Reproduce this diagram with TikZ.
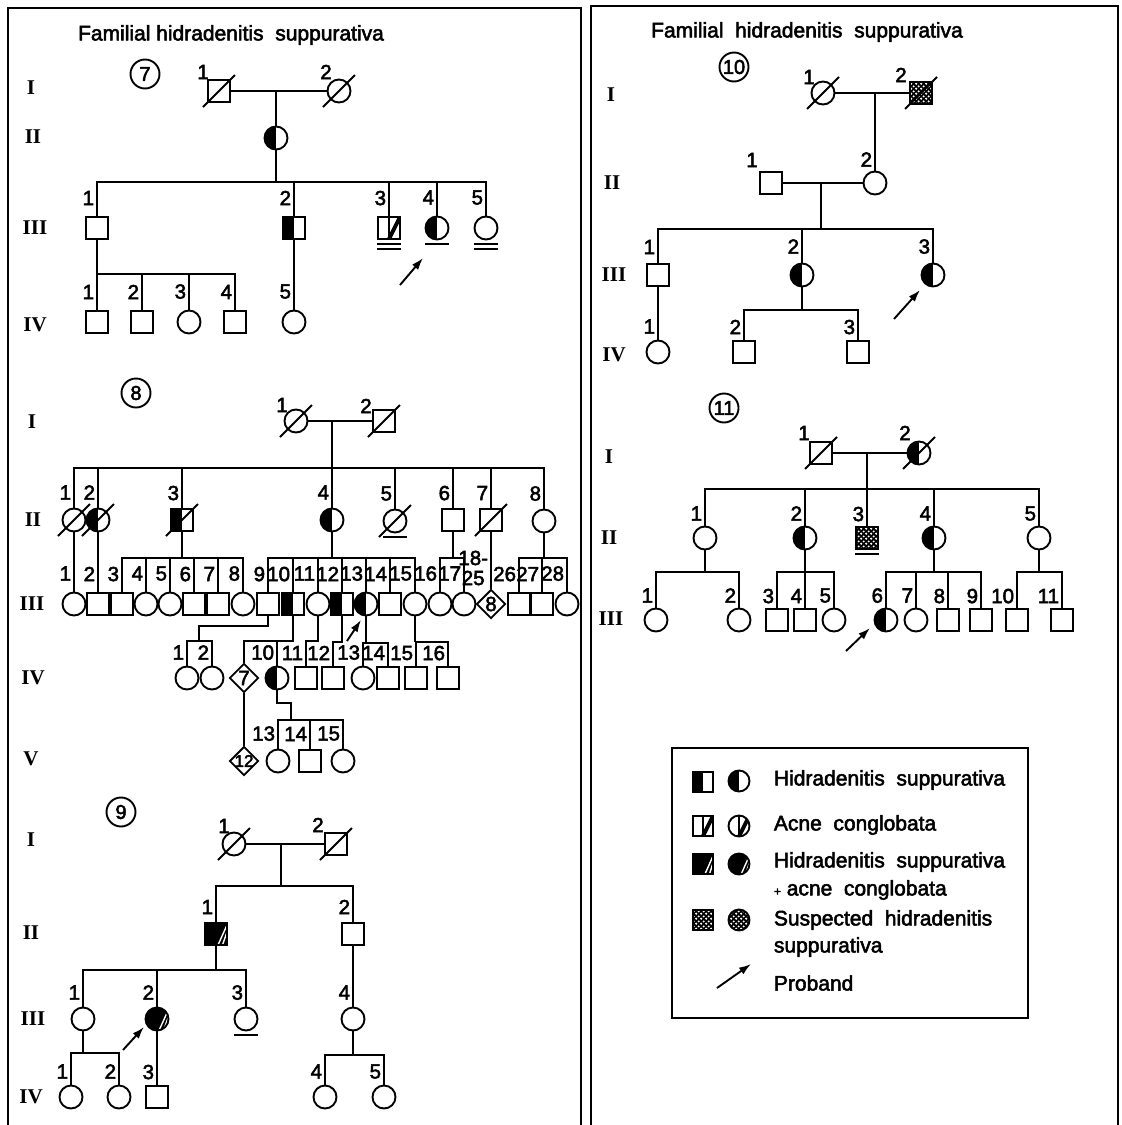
\documentclass[tikz,border=0pt]{standalone}
\usepackage{fontspec}
\setmainfont{Liberation Sans}[FakeBold=2.5]
\newfontfamily\genfont{Liberation Serif}
\usetikzlibrary{shapes.geometric,arrows.meta,patterns}

\pgfdeclarepatternformonly{stipple}{\pgfqpoint{-1pt}{-1pt}}{\pgfqpoint{6pt}{6pt}}{\pgfqpoint{5pt}{5pt}}{%
  \pgfpathcircle{\pgfqpoint{1.2pt}{1.3pt}}{1.2pt}%
  \pgfpathcircle{\pgfqpoint{3.7pt}{3.6pt}}{1.1pt}%
  \pgfusepath{fill}}

\newcommand\deceased[1]{\draw ([shift={(-16,-16)}]#1.center) -- ([shift={(16,16)}]#1.center);}
\newcommand\underl[1]{\draw ([shift={(-12,-16)}]#1.center) -- ([shift={(12,-16)}]#1.center);}
\newcommand\dunderl[1]{\underl{#1}\draw ([shift={(-12,-21)}]#1.center) -- ([shift={(12,-21)}]#1.center);}
\newcommand\lbl[3][18]{\node[num,anchor=east] (l#2) at ([shift={(-2,#1)}]#2.north) {#3};}

\begin{document}
\begin{tikzpicture}[x=1pt,y=1pt,line width=1.9pt,
  every node/.style={inner sep=0pt},
  sq/.style={draw,rectangle,minimum size=22pt},
  ci/.style={draw,circle,minimum size=23pt},
  dm/.style={draw,diamond,minimum size=29pt},
  hs/.style={path picture={\fill (path picture bounding box.south west) rectangle (path picture bounding box.north);}},
  ac/.style={path picture={\draw[line width=1.2pt] (path picture bounding box.south) -- (path picture bounding box.north);
    \draw[line width=4pt] (path picture bounding box.south) -- (path picture bounding box.north east);}},
  hsac/.style={path picture={\fill (path picture bounding box.south west) rectangle (path picture bounding box.north east);
    \draw[white,line width=1.4pt] ([xshift=2pt]path picture bounding box.south) -- ([yshift=-2pt]path picture bounding box.north east);
    \draw[white,line width=1.4pt] ([xshift=6.5pt]path picture bounding box.south) -- ([yshift=-9pt]path picture bounding box.north east);}},
  sus/.style={preaction={fill=black},pattern=stipple,pattern color=white},
  num/.style={font=\fontsize{20.5}{20}\selectfont},
  gen/.style={font=\genfont\bfseries\fontsize{21}{21}\selectfont},
  txt/.style={font=\fontsize{21}{21}\selectfont,anchor=west},
  pedno/.style={draw,circle,minimum size=29pt,font=\fontsize{20}{20}\selectfont},
  proband/.style={-{Latex[length=12pt,width=8pt]}}]
\useasboundingbox (0,0) rectangle (1122,-1125);
\draw (8,-1125) -- (8,-8) -- (581,-8) -- (581,-1125);
\draw (591,-1125) -- (591,-6) -- (1118,-6) -- (1118,-1125);
\node[txt,anchor=center] (title1) at (231,-35) {Familial hidradenitis~~suppurativa};
\node[txt,anchor=center] (title2) at (807,-32) {Familial~~hidradenitis~~suppurativa};

\node[pedno] (c7) at (145,-74) {7};
\node[gen] (g7I) at (31,-88) {I};
\node[gen] (g7II) at (33,-137) {II};
\node[gen] (g7III) at (35,-228) {III};
\node[gen] (g7IV) at (35,-325) {IV};
\node[sq] (p7I1) at (219,-91) {};
\node[ci] (p7I2) at (339,-91) {};
\deceased{p7I1}
\deceased{p7I2}
\node[num] (l7I1) at (203,-72) {1};
\node[num] (l7I2) at (326,-72) {2};
\coordinate (m7) at (276,-91);
\node[ci,hs] (p7II1) at (276,-138) {};
\coordinate (b7) at (276,-182);
\node[sq] (p7III1) at (97,-228) {};
\node[sq,hs] (p7III2) at (294,-228) {};
\node[sq,ac] (p7III3) at (389,-228) {};
\node[ci,hs] (p7III4) at (437,-228) {};
\node[ci] (p7III5) at (486,-228) {};
\draw (p7I1) -- (p7I2);
\draw (m7) -- (p7II1);
\draw (p7II1) -- (b7);
\foreach \k in {1,...,5} {\draw (p7III\k) |- (b7); \lbl{p7III\k}{\k}}
\dunderl{p7III3}
\underl{p7III4}
\dunderl{p7III5}
\coordinate (a7s) at (400,-285);
\coordinate (a7e) at (423,-258);
\draw[proband] (a7s) -- (a7e);
\coordinate (b7b) at (97,-274);
\node[sq] (p7IV1) at (97,-322) {};
\node[sq] (p7IV2) at (142,-322) {};
\node[ci] (p7IV3) at (189,-322) {};
\node[sq] (p7IV4) at (235,-322) {};
\node[ci] (p7IV5) at (294,-322) {};
\draw (p7III1) -- (b7b);
\foreach \k in {1,...,4} {\draw (p7IV\k) |- (b7b);}
\draw (p7III2) -- (p7IV5);
\foreach \k in {1,...,5} {\lbl{p7IV\k}{\k}}

\node[pedno] (c8) at (136,-393) {8};
\node[gen] (g8I) at (32,-422) {I};
\node[gen] (g8II) at (33,-520) {II};
\node[gen] (g8III) at (32,-604) {III};
\node[gen] (g8IV) at (33,-678) {IV};
\node[gen] (g8V) at (31,-759) {V};
\node[ci] (p8I1) at (296,-421) {};
\node[sq] (p8I2) at (384,-421) {};
\deceased{p8I1}
\deceased{p8I2}
\node[num] (l8I1) at (282,-405) {1};
\node[num] (l8I2) at (366,-406) {2};
\coordinate (m8) at (332,-421);
\coordinate (b8) at (332,-468);
\node[ci] (p8II1) at (74,-520) {};
\node[ci,hs] (p8II2) at (98,-520) {};
\node[sq,hs] (p8II3) at (182,-520) {};
\node[ci,hs] (p8II4) at (332,-520) {};
\node[ci] (p8II5) at (395,-521) {};
\node[sq] (p8II6) at (453,-520) {};
\node[sq] (p8II7) at (491,-520) {};
\node[ci] (p8II8) at (544,-521) {};
\deceased{p8II1}
\deceased{p8II2}
\deceased{p8II3}
\deceased{p8II5}
\deceased{p8II7}
\underl{p8II5}
\draw (p8I1) -- (p8I2);
\draw (m8) -- (b8);
\foreach \k in {1,...,8} {\draw (p8II\k) |- (b8); \lbl[15]{p8II\k}{\k}}
\node[ci] (p8III1) at (74,-604) {};
\node[sq] (p8III2) at (98,-604) {};
\node[sq] (p8III3) at (122,-604) {};
\node[ci] (p8III4) at (146,-604) {};
\node[ci] (p8III5) at (170,-604) {};
\node[sq] (p8III6) at (194,-604) {};
\node[sq] (p8III7) at (218,-604) {};
\node[ci] (p8III8) at (243,-604) {};
\node[sq] (p8III9) at (268,-604) {};
\node[sq,hs] (p8III10) at (293,-604) {};
\node[ci] (p8III11) at (318,-604) {};
\node[sq,hs] (p8III12) at (342,-604) {};
\node[ci,hs] (p8III13) at (366,-604) {};
\node[sq] (p8III14) at (390,-604) {};
\node[ci] (p8III15) at (415,-604) {};
\node[ci] (p8III16) at (440,-604) {};
\node[ci] (p8III17) at (464,-604) {};
\node[dm] (p8III18) at (491,-604) {};
\node[num] (p8III18t) at (p8III18) {8};
\node[sq] (p8III26) at (519,-604) {};
\node[sq] (p8III27) at (542,-604) {};
\node[ci] (p8III28) at (567,-604) {};
\coordinate (b8c) at (182,-558);
\coordinate (b8d) at (332,-558);
\coordinate (b8f) at (453,-558);
\coordinate (b8h) at (544,-558);
\draw (p8II1) -- (p8III1);
\draw (p8II2) -- (p8III2);
\draw (p8II3) -- (b8c);
\foreach \k in {3,...,8} {\draw (p8III\k) |- (b8c);}
\draw (p8II4) -- (b8d);
\foreach \k in {9,...,15} {\draw (p8III\k) |- (b8d);}
\draw (p8II6) -- (b8f);
\foreach \k in {16,17} {\draw (p8III\k) |- (b8f);}
\draw (p8II7) -- (p8III18);
\draw (p8II8) -- (b8h);
\foreach \k in {26,27,28} {\draw (p8III\k) |- (b8h);}
\foreach \k in {1,...,17,26,27,28} {\lbl{p8III\k}{\k}}
\node[num,align=center,anchor=east] (l8III18) at (489,-568) {18-\\25};
\coordinate (a8s) at (347,-641);
\coordinate (a8e) at (361,-620);
\draw[proband] (a8s) -- (a8e);
\node[ci] (p8IV1) at (187,-678) {};
\node[ci] (p8IV2) at (212,-678) {};
\node[dm] (p8IV7) at (244,-678) {};
\node[num] (p8IV7t) at (p8IV7) {7};
\node[ci,hs] (p8IV10) at (277,-678) {};
\node[sq] (p8IV11) at (306,-678) {};
\node[sq] (p8IV12) at (333,-678) {};
\node[ci] (p8IV13) at (363,-678) {};
\node[sq] (p8IV14) at (388,-678) {};
\node[sq] (p8IV15) at (416,-678) {};
\node[sq] (p8IV16) at (448,-678) {};
\coordinate (k8a) at (268,-626);
\coordinate (k8b) at (199,-626);
\coordinate (b8i) at (199,-641);
\draw (p8III9) -- (k8a) -- (k8b) -- (b8i);
\draw (p8IV1) |- (b8i);
\draw (p8IV2) |- (b8i);
\coordinate (b8j) at (293,-641);
\draw (p8III10) -- (b8j) -| (p8IV7);
\draw (p8IV10) -- (p8IV10 |- b8j);
\coordinate (b8k) at (318,-641);
\draw (p8III11) -- (b8k) -| (p8IV11);
\coordinate (b8l) at (342,-642);
\draw (p8III12) -- (b8l) -| (p8IV12);
\coordinate (b8m) at (366,-643);
\draw (p8III13) -- (b8m);
\draw (p8IV13) |- (b8m);
\draw (p8IV14) |- (b8m);
\coordinate (b8o) at (415,-642);
\draw (p8III15) -- (b8o);
\draw (p8IV15) |- (b8o);
\draw (p8IV16) |- (b8o);
\foreach \k in {1,2,10,11,12,13,14,15,16} {\lbl[13]{p8IV\k}{\k}}
\node[dm] (p8V12) at (244,-761) {};
\node[num,font=\fontsize{17}{17}\selectfont] (p8V12t) at (p8V12) {12};
\node[ci] (p8V13) at (278,-761) {};
\node[sq] (p8V14) at (310,-761) {};
\node[ci] (p8V15) at (343,-761) {};
\draw (p8IV7) -- (p8V12);
\coordinate (k8v) at (291,-703);
\coordinate (b8v) at (291,-720);
\draw (p8IV10) |- (k8v) -- (b8v);
\foreach \k in {13,14,15} {\draw (p8V\k) |- (b8v); \lbl[15]{p8V\k}{\k}}

\node[pedno] (c9) at (121,-812) {9};
\node[gen] (g9I) at (31,-840) {I};
\node[gen] (g9II) at (31,-933) {II};
\node[gen] (g9III) at (33,-1019) {III};
\node[gen] (g9IV) at (31,-1097) {IV};
\node[ci] (p9I1) at (234,-844) {};
\node[sq] (p9I2) at (336,-844) {};
\deceased{p9I1}
\deceased{p9I2}
\node[num] (l9I1) at (224,-826) {1};
\node[num] (l9I2) at (318,-825) {2};
\coordinate (m9) at (281,-844);
\coordinate (b9) at (281,-886);
\node[sq,hsac] (p9II1) at (216,-934) {};
\node[sq] (p9II2) at (353,-934) {};
\draw (p9I1) -- (p9I2);
\draw (m9) -- (b9);
\draw (p9II1) |- (b9);
\draw (p9II2) |- (b9);
\lbl[15]{p9II1}{1}
\lbl[15]{p9II2}{2}
\node[ci] (p9III1) at (83,-1019) {};
\node[ci,hsac] (p9III2) at (157,-1019) {};
\node[ci] (p9III3) at (246,-1019) {};
\node[ci] (p9III4) at (353,-1019) {};
\underl{p9III3}
\coordinate (b9b) at (216,-970);
\draw (p9II1) -- (b9b);
\foreach \k in {1,2,3} {\draw (p9III\k) |- (b9b);}
\draw (p9II2) -- (p9III4);
\foreach \k in {1,...,4} {\lbl[14]{p9III\k}{\k}}
\coordinate (a9s) at (123,-1050);
\coordinate (a9e) at (144,-1027);
\draw[proband] (a9s) -- (a9e);
\node[ci] (p9IV1) at (71,-1097) {};
\node[ci] (p9IV2) at (119,-1097) {};
\node[sq] (p9IV3) at (157,-1097) {};
\node[ci] (p9IV4) at (325,-1097) {};
\node[ci] (p9IV5) at (384,-1097) {};
\coordinate (b9c) at (83,-1053);
\draw (p9III1) -- (b9c);
\draw (p9IV1) |- (b9c);
\draw (p9IV2) |- (b9c);
\draw (p9III2) -- (p9IV3);
\coordinate (b9d) at (353,-1055);
\draw (p9III4) -- (b9d);
\draw (p9IV4) |- (b9d);
\draw (p9IV5) |- (b9d);
\foreach \k in {1,...,5} {\lbl[13]{p9IV\k}{\k}}

\node[pedno] (c10) at (734,-67) {10};
\node[gen] (g10I) at (611,-95) {I};
\node[gen] (g10II) at (612,-183) {II};
\node[gen] (g10III) at (614,-275) {III};
\node[gen] (g10IV) at (614,-355) {IV};
\node[ci] (p10I1) at (823,-93) {};
\node[sq,sus] (p10I2) at (921,-93) {};
\deceased{p10I1}
\deceased{p10I2}
\node[num] (l10I1) at (809,-77) {1};
\node[num] (l10I2) at (901,-75) {2};
\coordinate (m10) at (875,-93);
\node[sq] (p10II1) at (771,-183) {};
\node[ci] (p10II2) at (875,-183) {};
\draw (p10I1) -- (p10I2);
\draw (m10) -- (p10II2);
\node[num] (l10II1) at (752,-160) {1};
\lbl[11]{p10II2}{2}
\coordinate (m10b) at (821,-183);
\coordinate (b10) at (821,-229);
\draw (p10II1) -- (p10II2);
\draw (m10b) -- (b10);
\node[sq] (p10III1) at (658,-275) {};
\node[ci,hs] (p10III2) at (802,-275) {};
\node[ci,hs] (p10III3) at (933,-275) {};
\foreach \k in {1,2,3} {\draw (p10III\k) |- (b10); \lbl[16]{p10III\k}{\k}}
\coordinate (a10s) at (894,-319);
\coordinate (a10e) at (920,-290);
\draw[proband] (a10s) -- (a10e);
\node[ci] (p10IV1) at (658,-352) {};
\node[sq] (p10IV2) at (744,-352) {};
\node[sq] (p10IV3) at (858,-352) {};
\draw (p10III1) -- (p10IV1);
\coordinate (b10b) at (802,-310);
\draw (p10III2) -- (b10b);
\draw (p10IV2) |- (b10b);
\draw (p10IV3) |- (b10b);
\foreach \k in {1,2,3} {\lbl[13]{p10IV\k}{\k}}

\node[pedno] (c11) at (724,-408) {11};
\node[gen] (g11I) at (609,-457) {I};
\node[gen] (g11II) at (609,-538) {II};
\node[gen] (g11III) at (611,-619) {III};
\node[sq] (p11I1) at (821,-453) {};
\node[ci,hs] (p11I2) at (919,-453) {};
\deceased{p11I1}
\deceased{p11I2}
\node[num] (l11I1) at (804,-433) {1};
\node[num] (l11I2) at (905,-433) {2};
\coordinate (m11) at (867,-453);
\coordinate (b11) at (867,-489);
\node[ci] (p11II1) at (705,-538) {};
\node[ci,hs] (p11II2) at (805,-538) {};
\node[sq,sus] (p11II3) at (867,-538) {};
\node[ci,hs] (p11II4) at (934,-538) {};
\node[ci] (p11II5) at (1039,-538) {};
\underl{p11II3}
\draw (p11I1) -- (p11I2);
\draw (m11) -- (b11);
\foreach \k in {1,...,5} {\draw (p11II\k) |- (b11); \lbl[12]{p11II\k}{\k}}
\node[ci] (p11III1) at (656,-620) {};
\node[ci] (p11III2) at (739,-620) {};
\node[sq] (p11III3) at (777,-620) {};
\node[sq] (p11III4) at (805,-620) {};
\node[ci] (p11III5) at (834,-620) {};
\node[ci,hs] (p11III6) at (886,-620) {};
\node[ci] (p11III7) at (916,-620) {};
\node[sq] (p11III8) at (948,-620) {};
\node[sq] (p11III9) at (981,-620) {};
\node[sq] (p11III10) at (1017,-620) {};
\node[sq] (p11III11) at (1062,-620) {};
\coordinate (b11a) at (705,-572);
\coordinate (b11b) at (805,-572);
\coordinate (b11d) at (934,-572);
\coordinate (b11e) at (1039,-572);
\draw (p11II1) -- (b11a);
\foreach \k in {1,2} {\draw (p11III\k) |- (b11a);}
\draw (p11II2) -- (b11b);
\foreach \k in {3,4,5} {\draw (p11III\k) |- (b11b);}
\draw (p11II4) -- (b11d);
\foreach \k in {6,...,9} {\draw (p11III\k) |- (b11d);}
\draw (p11II5) -- (b11e);
\foreach \k in {10,11} {\draw (p11III\k) |- (b11e);}
\foreach \k in {1,...,11} {\lbl[12]{p11III\k}{\k}}
\coordinate (a11s) at (846,-651);
\coordinate (a11e) at (870,-628);
\draw[proband] (a11s) -- (a11e);

\draw (672,-748) rectangle (1028,-1018);
\node[sq,hs,minimum size=20pt] (k1s) at (703,-782) {};
\node[ci,hs,minimum size=21pt] (k1c) at (739,-781) {};
\node[sq,ac,minimum size=20pt] (k2s) at (703,-826) {};
\node[ci,ac,minimum size=21pt] (k2c) at (739,-826) {};
\node[sq,hsac,minimum size=20pt] (k3s) at (703,-864) {};
\node[ci,hsac,minimum size=21pt] (k3c) at (739,-864) {};
\node[sq,sus,minimum size=20pt] (k4s) at (703,-920) {};
\node[ci,sus,minimum size=21pt] (k4c) at (739,-920) {};
\coordinate (k5s) at (717,-988);
\coordinate (k5e) at (751,-964);
\draw[proband] (k5s) -- (k5e);
\node[txt] (t1) at (773,-780) {Hidradenitis~~suppurativa};
\node[txt] (t2) at (773,-825) {Acne~~conglobata};
\node[txt] (t3) at (773,-862) {Hidradenitis~~suppurativa};
\node[txt] (t3b) at (773,-890) {{\fontsize{12}{12}\selectfont+}~acne~~conglobata};
\node[txt] (t4) at (773,-920) {Suspected~~hidradenitis};
\node[txt] (t4b) at (773,-947) {suppurativa};
\node[txt] (t5) at (773,-983) {Proband};
\end{tikzpicture}
\end{document}
